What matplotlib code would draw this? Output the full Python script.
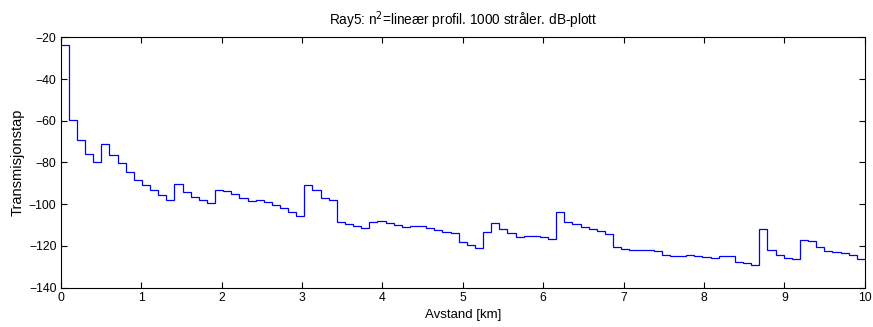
import numpy as np
import matplotlib
matplotlib.use("Agg")
import matplotlib.pyplot as plt

plt.rcParams['font.family'] = ['Liberation Sans Narrow', 'Liberation Sans', 'DejaVu Sans']

# Transmission loss per range bin (dB), 99 bins over 0-10 km
loss_db = [
    -23.6, -59.5, -69.1, -76.0, -79.7, -71.3, -76.5, -80.4, -84.6, -88.3,
    -90.7, -93.4, -95.8, -98.0, -90.2, -94.0, -96.3, -97.9, -99.5, -93.4,
    -93.9, -95.3, -96.9, -98.5, -98.0, -99.0, -100.4, -102.0, -103.6, -105.5,
    -90.8, -93.4, -96.9, -98.0, -108.7, -109.7, -110.3, -111.3, -108.7, -107.9,
    -108.9, -109.9, -110.8, -110.3, -110.3, -111.3, -112.3, -113.2, -113.7, -117.9,
    -119.5, -121.1, -113.4, -109.2, -111.8, -113.7, -115.5, -115.0, -115.0, -115.5,
    -116.9, -103.6, -108.3, -109.7, -110.8, -111.8, -112.9, -114.3, -120.4, -121.3,
    -122.0, -122.0, -122.0, -122.6, -124.2, -124.7, -124.7, -124.2, -124.7, -125.2,
    -125.7, -124.7, -124.7, -127.6, -128.3, -129.2, -111.9, -122.0, -124.1, -125.7,
    -126.2, -117.1, -117.5, -120.6, -122.2, -122.8, -123.6, -124.2, -126.2,
]
range_start_km = 0.0
range_end_km = 10.0

x_ticks = [0, 1, 2, 3, 4, 5, 6, 7, 8, 9, 10]
y_ticks = [-140, -120, -100, -80, -60, -40, -20]

title = "Ray5: n$^2$=lineær profil. 1000 stråler. dB-plott"
xlabel = "Avstand [km]"
ylabel = "Transmisjonstap"

edges = np.linspace(range_start_km, range_end_km, len(loss_db) + 1)

fig = plt.figure(figsize=(8.73, 3.27), dpi=100)
ax = fig.add_axes([0.0695, 0.1202, 0.9212, 0.7658])
ax.stairs(loss_db, edges, baseline=None, color=(0, 0, 1), linewidth=0.9)

ax.set_xlim(0, 10)
ax.set_ylim(-140, -20)
ax.set_xticks(x_ticks)
ax.set_yticks(y_ticks)
ax.tick_params(direction='in', top=True, right=True, length=4, width=0.8,
               labelsize=8.7, pad=3)
for s in ax.spines.values():
    s.set_linewidth(0.8)

ax.set_title(title, fontsize=9.8, pad=9)
ax.set_xlabel(xlabel, fontsize=9.5, labelpad=4)
ax.set_ylabel(ylabel, fontsize=10.5, labelpad=3)

fig.savefig("out.png", dpi=100)
